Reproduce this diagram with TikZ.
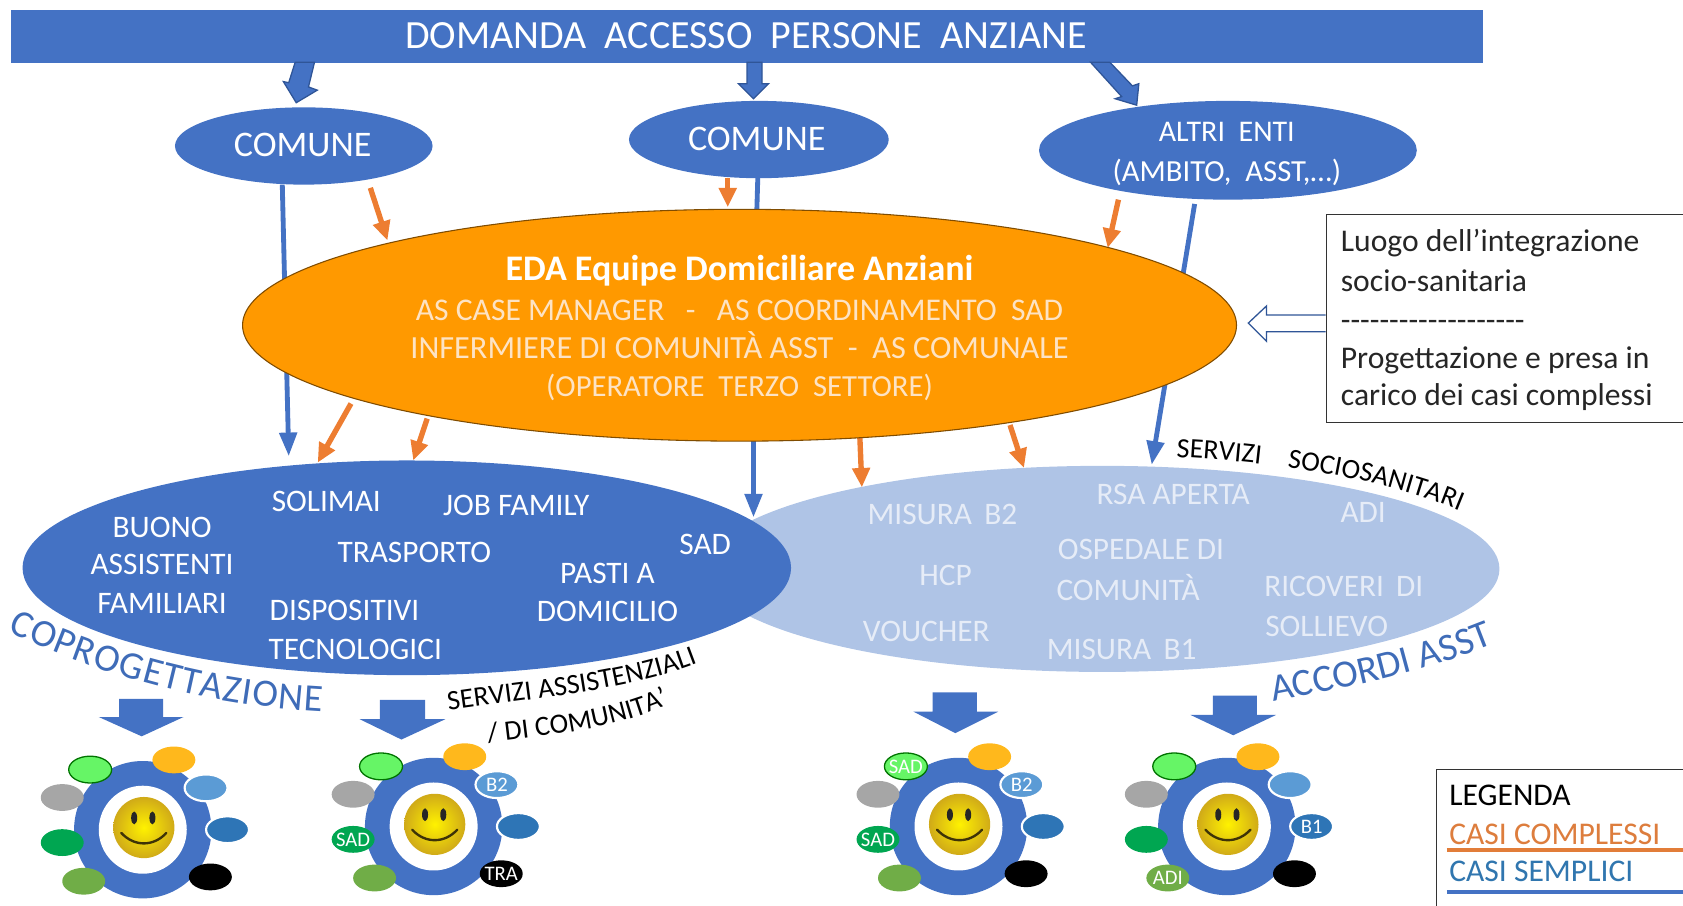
\documentclass[tikz,border=0pt]{standalone}
\usepackage{fontspec}
\setmainfont{Carlito}
\usetikzlibrary{shapes.geometric,arrows.meta,decorations.text}
\definecolor{blu}{HTML}{4472C4}
\definecolor{bluD}{HTML}{2F5597}
\definecolor{ora}{HTML}{FF9900}
\definecolor{oraL}{HTML}{ED7D31}
\definecolor{lbl}{HTML}{AFC4E6}
\definecolor{peach}{HTML}{FDE3C4}
\definecolor{paleT}{HTML}{E6ECF7}
\definecolor{curveT}{HTML}{3F6CB8}
\definecolor{satLG}{HTML}{66F566}
\definecolor{satOR}{HTML}{FFB81C}
\definecolor{satLB}{HTML}{5B9BD5}
\definecolor{satBU}{HTML}{2E75B6}
\definecolor{satOL}{HTML}{70AD47}
\definecolor{satDG}{HTML}{00A651}
\definecolor{satGY}{HTML}{A6A6A6}
\definecolor{faceA}{HTML}{FFF200}
\definecolor{faceB}{HTML}{F8DC00}
\definecolor{faceC}{HTML}{D0AA18}
\def\u{0.805pt}
\tikzset{
  txt/.style={inner sep=0pt,font=\fontsize{#1}{#1}\selectfont,text=white},
  oval/.style={ellipse,inner sep=0pt,fill=blu},
  blueconn/.style={draw=blu,line width=4.5*\u,-{Triangle[length=22*\u,width=16*\u]}},
  oraconn/.style={draw=oraL,line width=5*\u,-{Triangle[length=18*\u,width=16*\u]}},
  blockbig/.style={fill=blu,draw=none},
  blocktop/.style={fill=blu,draw=bluD,line width=1.2*\u},
  sat/.style={ellipse,inner sep=0pt,minimum width=40*\u,minimum height=25*\u},
  satlab/.style={inner sep=0pt,text=white,font=\fontsize{15.5}{15.5}\selectfont},
  framebox/.style={draw=black!80,line width=1.2*\u,fill=white},
}
\newcommand\gearunit[3]{%
  \begin{scope}[shift={(#2,#3)}]
    \node[oval,minimum width=128*\u,minimum height=128*\u] (#1ring) at (0,0) {};
    \node[ellipse,inner sep=0pt,fill=white,minimum width=82*\u,minimum height=82*\u] (#1hole) at (0,0) {};
    \node[circle,inner sep=0pt,minimum size=57*\u,shade,shading=radial,inner color=faceA,middle color=faceB,outer color=faceC] (#1face) at (1,-2) {};
    \fill[black!85] (-8,-11) ellipse (2.8 and 6);
    \fill[black!85] (9,-11) ellipse (2.8 and 6);
    \draw[black!70!faceC,line width=2.2*\u,line cap=round] (-20,3) .. controls (-8,16) and (10,16) .. (22,3);
    \node[sat,fill=satLG,draw=green!45!black,line width=1.2*\u] (#1lg) at (-49,-56) {};
    \node[sat,fill=satOR] (#1or) at (29,-65) {};
    \node[sat,fill=satLB,draw=white,line width=2*\u] (#1lb) at (59,-39) {};
    \node[sat,fill=satBU,draw=white,line width=2*\u] (#1bu) at (79,0) {};
    \node[sat,fill=black] (#1bk) at (63,44) {};
    \node[sat,fill=satOL] (#1ol) at (-55,48) {};
    \node[sat,fill=satDG] (#1dg) at (-75,12) {};
    \node[sat,fill=satGY] (#1gy) at (-75,-30) {};
  \end{scope}}
\begin{document}
\begin{tikzpicture}[x=0.805pt,y=-0.805pt]
\useasboundingbox (0,0) rectangle (1568,844);
\clip (0,0) rectangle (1568,844);

% connector end points
\coordinate (c1s) at (263,172);  \coordinate (c1t) at (269,425);
\coordinate (c2s) at (706,166);  \coordinate (c2m) at (702,300);
\coordinate (c2t) at (702,482);
\coordinate (c3s) at (1113,190); \coordinate (c3t) at (1073,433);
\coordinate (o1s) at (345,175);  \coordinate (o1t) at (361,224);
\coordinate (o2s) at (678,166);  \coordinate (o2t) at (678,193);
\coordinate (o3s) at (1042,186); \coordinate (o3t) at (1032,231);
\coordinate (o4s) at (327,376);  \coordinate (o4t) at (296,431);
\coordinate (o5s) at (398,390);  \coordinate (o5t) at (385,429);
\coordinate (o6s) at (801,405);  \coordinate (o6t) at (803,454);
\coordinate (o7s) at (941,396);  \coordinate (o7t) at (954,436);

% lower ovals
\node[oval,fill=lbl,minimum width=740*\u,minimum height=192*\u] (accordi) at (1027,530) {};
\node[oval,minimum width=716*\u,minimum height=200*\u] (copro) at (379,529) {};

% connectors
\draw[blueconn] (c1s) -- (c1t);
\draw[draw=blu,line width=4.5*\u] (c2s) -- (c2m);
\draw[blueconn] (c2m) -- (c2t);
\draw[blueconn] (c3s) -- (c3t);
\draw[oraconn] (o1s) -- (o1t);
\draw[oraconn] (o2s) -- (o2t);
\draw[oraconn] (o3s) -- (o3t);
\draw[oraconn] (o4s) -- (o4t);
\draw[oraconn] (o5s) -- (o5t);
\draw[oraconn] (o6s) -- (o6t);
\draw[oraconn] (o7s) -- (o7t);

% top bar
\node[inner sep=0pt,fill=blu,minimum width=1371*\u,minimum height=49*\u,anchor=north west] (bar) at (10,9) {};
\node[txt=30] (bartext) at (695,33) {DOMANDA\ \ ACCESSO\ \ PERSONE\ \ ANZIANE};

% top block arrows
\draw[blocktop] (275,58) -- (293,58) -- (287.4,81) -- (295.6,84) -- (276,95.7) -- (264,76) -- (269,77) -- cycle;
\draw[blocktop] (696,58) -- (710,58) -- (710,78) -- (716,78) -- (702,92) -- (688,78) -- (696,78) -- cycle;
\draw[blocktop] (1016,58) -- (1034,58) -- (1055,80) -- (1061,78) -- (1059,98) -- (1039,92) -- (1045,90) -- cycle;

% upper ovals
\node[oval,minimum width=240*\u,minimum height=72*\u] (com1) at (283,136) {};
\node[txt=27] at (282,135) {COMUNE};
\node[oval,minimum width=242*\u,minimum height=72*\u] (com2) at (707,130) {};
\node[txt=27] at (705,129) {COMUNE};
\node[oval,minimum width=352*\u,minimum height=92*\u] (altri) at (1144,140) {};
\node[txt=22.5] at (1143,123) {ALTRI\ \ ENTI};
\node[txt=23] at (1143,161) {(AMBITO,\ \ ASST,…)};

% EDA
\node[oval,fill=ora,draw=black!50!ora,line width=1*\u,minimum width=926*\u,minimum height=216*\u] (eda) at (689,303) {};
\node[txt=27,font=\fontsize{27}{27}\selectfont\bfseries] at (689,252) {EDA Equipe Domiciliare Anziani};
\node[txt=23.7,text=peach] at (689,289) {AS CASE MANAGER\ \ \ -\ \ \ AS COORDINAMENTO\ \ SAD};
\node[txt=24.2,text=peach] at (689,322) {INFERMIERE DI COMUNITÀ ASST\ \ -\ \ AS COMUNALE};
\node[txt=23,text=peach] at (689,361) {(OPERATORE\ \ TERZO\ \ SETTORE)};

% left oval texts
\node[txt=23.5] at (151,491) {BUONO};
\node[txt=23.5] at (151,526) {ASSISTENTI};
\node[txt=23.5] at (151,562) {FAMILIARI};
\node[txt=23.5] at (304,467) {SOLIMAI};
\node[txt=23.5] at (481,471) {JOB FAMILY};
\node[txt=23.5] at (386,515) {TRASPORTO};
\node[txt=23.5] at (657,507) {SAD};
\node[txt=23.5] at (566,534) {PASTI A};
\node[txt=23.5] at (566,570) {DOMICILIO};
\node[txt=23.5] at (321,569) {DISPOSITIVI};
\node[txt=23.5] at (331,605) {TECNOLOGICI};

% right oval texts
\node[txt=23.5,text=paleT] at (878,479) {MISURA\ \,B2};
\node[txt=23.5,text=paleT] at (1093,461) {RSA APERTA};
\node[txt=23.5,text=paleT] at (1270,477) {ADI};
\node[txt=23.5,text=paleT] at (881,536) {HCP};
\node[txt=23.5,text=paleT] at (1063,512) {OSPEDALE DI};
\node[txt=23.5,text=paleT] at (1051,547) {COMUNITÀ};
\node[txt=23.5,text=paleT] at (1252,546) {RICOVERI\ \,DI};
\node[txt=23.5,text=paleT] at (1236,584) {SOLLIEVO};
\node[txt=23.5,text=paleT] at (863,588) {VOUCHER};
\node[txt=23.5,text=paleT] at (1045,605) {MISURA\ \,B1};

% curved captions
\path[decorate,decoration={text along path,text align={fit to path},
  text={|\fontsize{29}{29}\selectfont\color{curveT}|COPROGETTAZIONE}}]
  (7,588) .. controls (90,628) and (190,657) .. (300,663);
\path[decorate,decoration={text along path,text align={fit to path},
  text={|\fontsize{29}{29}\selectfont\color{curveT}|ACCORDI ASST}}]
  (1186,654) .. controls (1260,640) and (1330,625) .. (1392,600);
\path[decorate,decoration={text along path,text align={fit to path stretching spaces},
  text={|\fontsize{21}{21}\selectfont\color{black}|SERVIZI  SOCIOSANITARI}}]
  (1096,426) .. controls (1180,430) and (1280,443) .. (1360,476);
\path[decorate,decoration={text along path,text align={fit to path},
  text={|\fontsize{21}{21}\selectfont\color{black}|SERVIZI ASSISTENZIALI}}]
  (418,662) .. controls (495,650) and (580,645) .. (650,618);
\path[decorate,decoration={text along path,text align={fit to path},
  text={|\fontsize{21}{21}\selectfont\color{black}|/ DI COMUNITA'}}]
  (455,692) .. controls (510,685) and (570,680) .. (624,656);

% info box with hollow arrow
\node[framebox,anchor=north west,minimum width=345*\u,minimum height=194*\u,inner sep=0pt] (info) at (1235,199) {};
\draw[draw=bluD,line width=1.2*\u,fill=white] (info.west |- 0,293.5) -- (1180,293.5) -- (1180,285) -- (1163,301) -- (1180,318) -- (1180,309) -- (info.west |- 0,309);
\node[txt=23.7,text=black!85,anchor=base west] at (1249,234) {Luogo dell’integrazione};
\node[txt=23.7,text=black!85,anchor=base west] at (1249,272) {socio-sanitaria};
\node[txt=23.7,text=black!85,anchor=base west] at (1249,308) {-{}-{}-{}-{}-{}-{}-{}-{}-{}-{}-{}-{}-{}-{}-{}-{}-{}-{}-{}};
\node[txt=23.7,text=black!85,anchor=base west] at (1249,343) {Progettazione e presa in};
\node[txt=23.7,text=black!85,anchor=base west] at (1249,378) {carico dei casi complessi};

% legend
\node[framebox,anchor=north west,minimum width=240*\u,minimum height=140*\u,inner sep=0pt] (legend) at (1338,716) {};
\node[txt=23.7,text=black,anchor=west] at (1350,741) {LEGENDA};
\node[txt=23.7,text=oraL!85!gray,anchor=west] at (1350,777) {CASI COMPLESSI};
\node[txt=23.7,text=blu!70!teal,anchor=west] at (1350,812) {CASI SEMPLICI};
\coordinate (l1s) at (1348,792); \coordinate (l1t) at (1575,792);
\coordinate (l2s) at (1348,831); \coordinate (l2t) at (1575,831);
\draw[oraL!90!gray,line width=4*\u] (l1s) -- (l1t);
\draw[blu,line width=4*\u] (l2s) -- (l2t);

% big down arrows
\fill[blockbig] (111,651) -- (152,651) -- (152,668) -- (171,668) -- (132,686) -- (92,668) -- (111,668) -- cycle;
\fill[blockbig] (354,652) -- (396,652) -- (396,670) -- (415,670) -- (374,689) -- (335,670) -- (354,670) -- cycle;
\fill[blockbig] (869,645) -- (910,645) -- (910,663) -- (930,663) -- (890,683) -- (851,663) -- (869,663) -- cycle;
\fill[blockbig] (1130,648) -- (1171,648) -- (1171,666) -- (1189,666) -- (1149,685) -- (1109,666) -- (1130,666) -- cycle;

% person gears
\gearunit{ga}{133}{773}
\gearunit{gb}{404}{770}
\gearunit{gc}{893}{770}
\gearunit{gd}{1143}{770}
\node[satlab] at (gblb) {B2};
\node[satlab] at (gbdg) {SAD};
\node[satlab] at (gbbk) {TRA};
\node[satlab] at (gclg) {SAD};
\node[satlab] at (gclb) {B2};
\node[satlab] at (gcdg) {SAD};
\node[satlab] at (gdbu) {B1};
\node[satlab] at (gdol) {ADI};
\end{tikzpicture}
\end{document}
